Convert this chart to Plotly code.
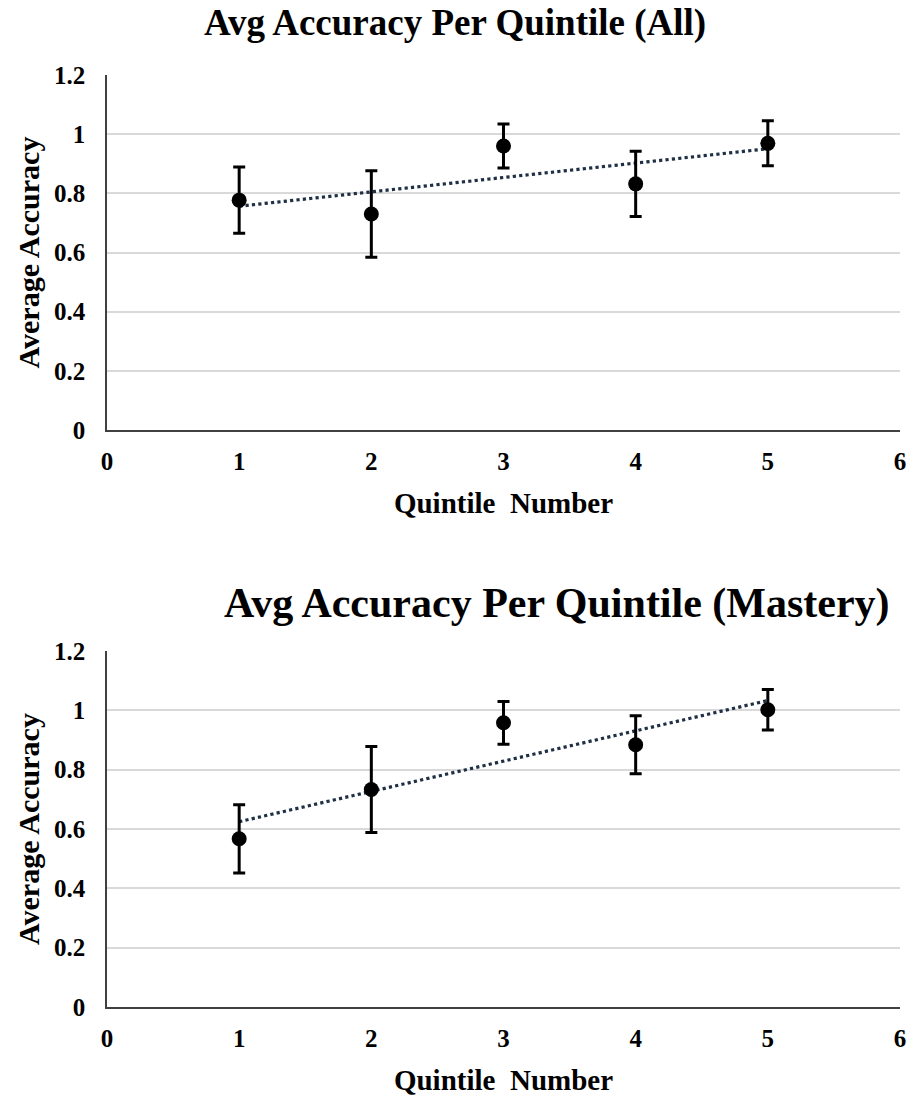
import numpy as np
import plotly.graph_objects as go

quintiles = [1, 2, 3, 4, 5]
acc_all = [0.777, 0.730, 0.960, 0.832, 0.969]
err_all = [0.112, 0.146, 0.074, 0.110, 0.076]
acc_mastery = [0.567, 0.733, 0.958, 0.884, 1.002]
err_mastery = [0.115, 0.145, 0.072, 0.098, 0.068]
titles = ["Avg Accuracy Per Quintile (All)", "Avg Accuracy Per Quintile (Mastery)"]
y_ticks = [0, 0.2, 0.4, 0.6, 0.8, 1.0, 1.2]
y_ticktext = ["0", "0.2", "0.4", "0.6", "0.8", "1", "1.2"]
x_ticks = [0, 1, 2, 3, 4, 5, 6]

W, H = 909, 1099
FONT = "Liberation Serif"

fig = go.Figure()

# plot areas in pixels (left, right, top, bottom)
areas = [(107, 900, 75, 430), (107, 900, 651, 1007)]
series = [(acc_all, err_all), (acc_mastery, err_mastery)]

for i, ((vals, errs), (l, r, t, b)) in enumerate(zip(series, areas)):
    ax = "" if i == 0 else str(i + 1)
    xa, ya = "x" + ax, "y" + ax
    # trendline from linear fit
    slope, intercept = np.polyfit(quintiles, vals, 1)
    tx = np.array([quintiles[0], quintiles[-1]], dtype=float)
    fig.add_trace(go.Scatter(
        x=tx, y=slope * tx + intercept, mode="lines",
        line=dict(color="#1f2f45", width=3.2, dash="dot"),
        xaxis=xa, yaxis=ya, showlegend=False, hoverinfo="skip"))
    fig.add_trace(go.Scatter(
        x=quintiles, y=vals, mode="markers",
        marker=dict(color="black", size=15),
        error_y=dict(type="data", array=errs, visible=True,
                     color="black", thickness=3, width=6),
        xaxis=xa, yaxis=ya, showlegend=False))

    xdom = [l / W, r / W]
    ydom = [(H - b) / H, (H - t) / H]
    fig.layout["xaxis" + ax] = dict(
        domain=xdom, range=[0, 6], tickvals=x_ticks,
        ticktext=["<b>%d</b>" % v for v in x_ticks], showgrid=False,
        zeroline=False, showline=True, linecolor="#404040", linewidth=2,
        ticks="", tickfont=dict(family=FONT, size=25, color="black"),
        anchor=ya, fixedrange=True, automargin=False, ticklabelstandoff=8,
        title=dict(text="<b>Quintile  Number</b>",
                   font=dict(family=FONT, size=29, color="black"), standoff=19))
    fig.layout["yaxis" + ax] = dict(
        domain=ydom, range=[0, 1.2], tickvals=y_ticks,
        ticktext=["<b>%s</b>" % s for s in y_ticktext],
        showgrid=True, gridcolor="#d9d9d9", gridwidth=1.5,
        zeroline=False, showline=True, linecolor="#404040", linewidth=1.5,
        ticks="", tickfont=dict(family=FONT, size=25, color="black"),
        anchor=xa, fixedrange=True, automargin=False, ticklabelstandoff=15,
        title=dict(text="<b>Average Accuracy</b>",
                   font=dict(family=FONT, size=30, color="black"), standoff=6))

fig.add_annotation(text="<b>%s</b>" % titles[0], x=455 / W, y=1 - 23 / H,
                   xref="paper", yref="paper", showarrow=False,
                   xanchor="center", yanchor="middle",
                   font=dict(family=FONT, size=37, color="black"))
fig.add_annotation(text="<b>%s</b>" % titles[1], x=557 / W, y=1 - 603 / H,
                   xref="paper", yref="paper", showarrow=False,
                   xanchor="center", yanchor="middle",
                   font=dict(family=FONT, size=42, color="black"))

fig.update_layout(width=W, height=H, margin=dict(l=0, r=0, t=0, b=0),
                  paper_bgcolor="white", plot_bgcolor="white")

fig.write_html("out.html", config={"displayModeBar": False},
               post_script="document.body.style.margin='0';document.body.style.padding='0';")
